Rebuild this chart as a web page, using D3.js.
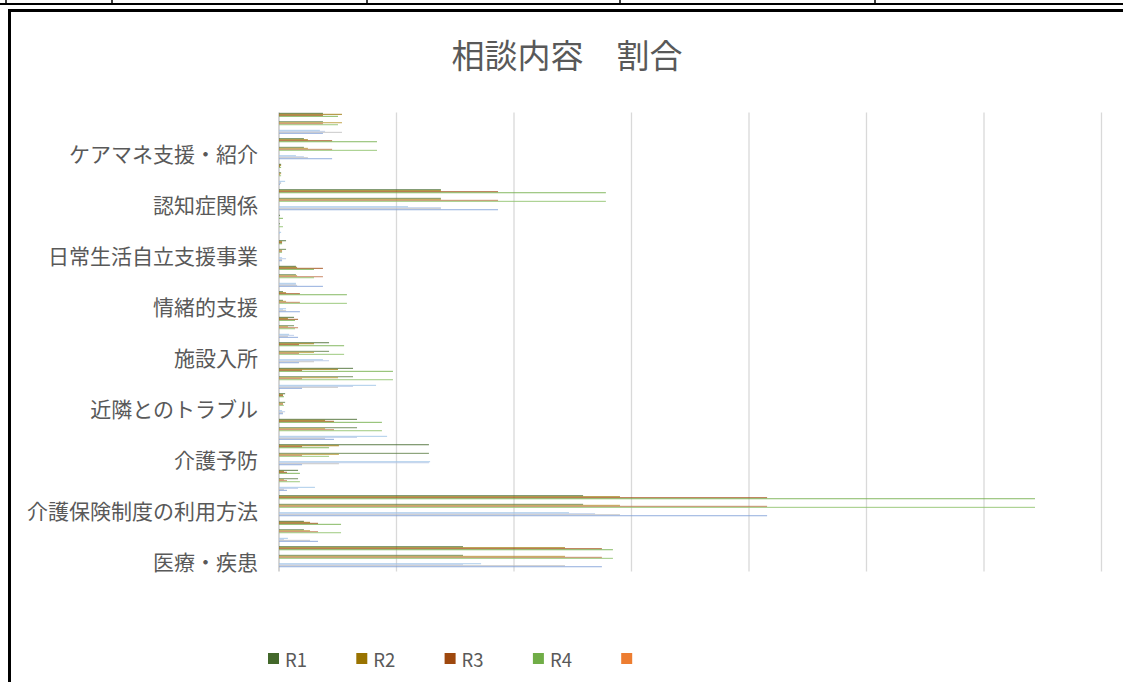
<!DOCTYPE html>
<html>
<head>
<meta charset="utf-8">
<script src="https://d3js.org/d3.v7.min.js"></script>
<style>
  html, body { margin: 0; padding: 0; background: #fff; }
  svg { display: block; }
  text { font-family: "Noto Sans CJK JP", "Noto Sans", sans-serif; fill: #595959; }
</style>
</head>
<body>
<script>
// categories, top to bottom as drawn (every other label is hidden in the chart)
const labels = [null, "ケアマネ支援・紹介", null, "認知症関係", null, "日常生活自立支援事業",
  null, "情緒的支援", null, "施設入所", null, "近隣とのトラブル", null, "介護予防",
  null, "介護保険制度の利用方法", null, "医療・疾患"];

// values in % (no axis labels shown)
const r1 = [1.87, 1.06, 0.09, 6.89, 0.04, 0.30, 0.72, 0.17, 0.64, 2.13, 3.15, 0.26, 3.32, 6.38, 0.81, 12.94, 1.06, 7.83];
const r2 = [2.68, 1.23, 0.09, 6.89, 0.00, 0.13, 0.77, 0.30, 0.38, 1.49, 2.51, 0.17, 1.96, 2.55, 0.21, 14.51, 1.32, 12.17];
const r3 = [1.87, 2.26, 0.04, 9.32, 0.00, 0.13, 1.87, 0.89, 0.81, 0.85, 0.98, 0.17, 2.34, 0.98, 0.34, 20.77, 1.66, 13.74];
const r4 = [2.51, 4.17, 0.09, 13.91, 0.17, 0.13, 1.49, 2.89, 0.68, 2.77, 4.85, 0.21, 4.38, 2.13, 0.89, 32.17, 2.64, 14.21];
const r5 = [0, 0, 0, 0, 0, 0, 0, 0, 0, 0, 0, 0, 0, 0, 0, 0, 0, 0];

// third (blue) block of bars
const c1 = [1.74, 0.72, 0.26, 5.49, 0.09, 0.13, 0.72, 0.30, 0.43, 1.87, 4.13, 0.13, 4.60, 6.43, 1.53, 12.34, 0.38, 8.60];
const c2 = [1.96, 1.06, 0.09, 6.89, 0.04, 0.30, 0.72, 0.17, 0.64, 2.13, 3.15, 0.26, 3.32, 6.38, 0.81, 13.45, 0.21, 7.83];
const c3 = [2.68, 1.23, 0.09, 6.89, 0.00, 0.13, 0.77, 0.30, 0.38, 1.49, 2.51, 0.17, 1.96, 2.55, 0.21, 14.51, 1.32, 12.17];
const c4 = [1.87, 2.26, 0.04, 9.32, 0.00, 0.13, 1.87, 0.89, 0.81, 0.85, 0.98, 0.17, 2.34, 0.98, 0.34, 20.77, 1.66, 13.74];

const seriesNames = ["R1", "R2", "R3", "R4", ""];
const series = [
  // block, slot, values, colour
  { block: 0, slot: 0, name: "R1", values: r1, color: "#43682B" },
  { block: 0, slot: 1, name: "R2", values: r2, color: "#997300" },
  { block: 0, slot: 2, name: "R3", values: r3, color: "#9E480E" },
  { block: 0, slot: 3, name: "R4", values: r4, color: "#70AD47" },
  { block: 0, slot: 4, name: "",   values: r5, color: "#ED7D31" },
  { block: 1, slot: 0, values: r1, color: "#5E7F47" },
  { block: 1, slot: 1, values: r2, color: "#B8962E" },
  { block: 1, slot: 2, values: r3, color: "#C0724A" },
  { block: 1, slot: 3, values: r4, color: "#8CC168" },
  { block: 1, slot: 4, values: r5, color: "#F1975A" },
  { block: 2, slot: 0, values: c1, color: "#9DC3E6" },
  { block: 2, slot: 1, values: c2, color: "#B4C7E7" },
  { block: 2, slot: 2, values: c3, color: "#BFBFBF" },
  { block: 2, slot: 3, values: c4, color: "#7F9FD8" },
  { block: 2, slot: 4, values: r5, color: "#DAE3F3" }
];

const W = 1123, H = 682;
const svg = d3.select("body").append("svg")
  .attr("width", W)
  .attr("height", H);

// table lines above the chart
svg.append("line").attr("x1", 0).attr("x2", W).attr("y1", 4).attr("y2", 4)
  .attr("stroke", "#000").attr("stroke-width", 2);
[6, 112, 367, 620, 875].forEach(xx => {
  svg.append("line").attr("x1", xx).attr("x2", xx).attr("y1", 0).attr("y2", 4)
    .attr("stroke", "#000").attr("stroke-width", 1.5);
});

// chart frame (runs off the right and bottom edge)
svg.append("rect")
  .attr("x", 9.5).attr("y", 10.5)
  .attr("width", W + 20).attr("height", H + 20)
  .attr("fill", "#fff")
  .attr("stroke", "#000")
  .attr("stroke-width", 3);

svg.append("text")
  .attr("x", 567)
  .attr("y", 54)
  .attr("text-anchor", "middle")
  .attr("dominant-baseline", "central")
  .style("font-size", "33px")
  .text("相談内容　割合");

const plotTop = 112.5, plotBottom = 571.5;

const x = d3.scaleLinear()
  .domain([0, 35])
  .range([279, 1101.5]);

const yCat = d3.scaleBand()
  .domain(d3.range(labels.length))
  .range([plotTop, plotBottom]);

const yBlock = d3.scaleBand()
  .domain([0, 1, 2])
  .range([0, yCat.bandwidth()]);

const ySlot = d3.scaleBand()
  .domain(d3.range(seriesNames.length))
  .range([0, yBlock.bandwidth()])
  .paddingOuter(1.75)
  .align(0.1);

// gridlines
svg.append("g")
  .selectAll("line")
  .data(x.ticks(7))
  .join("line")
  .attr("x1", d => x(d)).attr("x2", d => x(d))
  .attr("y1", plotTop).attr("y2", plotBottom)
  .attr("stroke", d => d === 0 ? "#BFBFBF" : "#D9D9D9")
  .attr("stroke-width", 1.3);

// category labels
svg.append("g")
  .selectAll("text")
  .data(labels.map((l, i) => ({ l, i })).filter(d => d.l))
  .join("text")
  .attr("x", 258)
  .attr("y", d => yCat(d.i) + yCat.bandwidth() / 2 + 2)
  .attr("text-anchor", "end")
  .attr("dominant-baseline", "central")
  .style("font-size", "21px")
  .text(d => d.l);

// bars
const bars = [];
series.forEach(s => {
  s.values.forEach((v, i) => bars.push({ s, v, i }));
});

svg.append("g")
  .selectAll("rect")
  .data(bars)
  .join("rect")
  .attr("x", x(0))
  .attr("y", d => yCat(d.i) + yBlock(d.s.block) + ySlot(d.s.slot))
  .attr("width", d => x(d.v) - x(0))
  .attr("height", ySlot.bandwidth() * 0.85)
  .attr("fill", d => d.s.color);

// legend (first row only is visible)
const legend = svg.append("g")
  .selectAll("g")
  .data(series.filter(s => s.block === 0))
  .join("g")
  .attr("transform", (d, i) => `translate(${268 + i * 88.3},653)`);

legend.append("rect")
  .attr("width", 11).attr("height", 11)
  .attr("fill", d => d.color);

legend.append("text")
  .attr("x", 17)
  .attr("y", 6)
  .attr("dominant-baseline", "central")
  .style("font-size", "18.5px")
  .text(d => d.name);
</script>
</body>
</html>
